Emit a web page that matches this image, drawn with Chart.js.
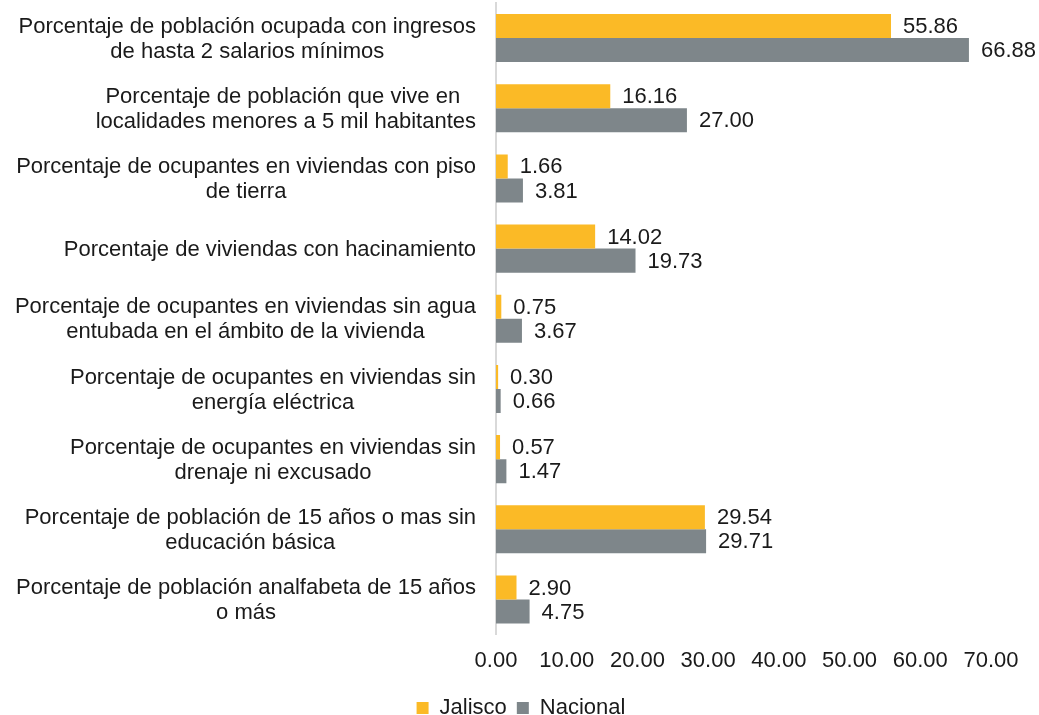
<!DOCTYPE html>
<html>
<head>
<meta charset="utf-8">
<script src="https://cdn.jsdelivr.net/npm/chart.js@4.4.0/dist/chart.umd.min.js"></script>
<style>
  html, body { margin: 0; padding: 0; background: #fff; overflow: hidden; }
  #wrap { width: 1039px; height: 729px; }
</style>
</head>
<body>
<div id="wrap"><canvas id="chart"></canvas></div>
<script>
const categories = [
    ["Porcentaje de población ocupada con ingresos", "de hasta 2 salarios mínimos"],
    ["Porcentaje de población que vive en ", "localidades menores a 5 mil habitantes"],
    ["Porcentaje de ocupantes en viviendas con piso", "de tierra"],
    ["Porcentaje de viviendas con hacinamiento"],
    ["Porcentaje de ocupantes en viviendas sin agua", "entubada en el ámbito de la vivienda"],
    ["Porcentaje de ocupantes en viviendas sin", "energía eléctrica"],
    ["Porcentaje de ocupantes en viviendas sin", "drenaje ni excusado"],
    ["Porcentaje de población de 15 años o mas sin", "educación básica"],
    ["Porcentaje de población analfabeta de 15 años", "o más"]
];
const jalisco = [55.86, 16.16, 1.66, 14.02, 0.75, 0.30, 0.57, 29.54, 2.90];
const nacional = [66.88, 27.00, 3.81, 19.73, 3.67, 0.66, 1.47, 29.71, 4.75];
const xTicks = [0, 10, 20, 30, 40, 50, 60, 70];

const FONT = "'Liberation Sans', Arial, sans-serif";
const TEXT = '#1A1A1A';

// labels at the end of every bar
const valueLabels = {
    id: 'valueLabels',
    afterDatasetsDraw(chart) {
        const ctx = chart.ctx;
        ctx.save();
        ctx.font = '22px ' + FONT;
        ctx.fillStyle = TEXT;
        ctx.textAlign = 'left';
        ctx.textBaseline = 'middle';
        chart.data.datasets.forEach((ds, i) => {
            chart.getDatasetMeta(i).data.forEach((bar, j) => {
                ctx.fillText(ds.data[j].toFixed(2), bar.x + 12, bar.y + 1);
            });
        });
        ctx.restore();
    }
};

// category labels: block right-aligned to the axis, lines centred in the block
const categoryLabels = {
    id: 'categoryLabels',
    afterDraw(chart) {
        const ctx = chart.ctx;
        const y = chart.scales.y;
        const lineH = 25;
        ctx.save();
        ctx.font = '22px ' + FONT;
        ctx.fillStyle = TEXT;
        ctx.textAlign = 'center';
        ctx.textBaseline = 'middle';
        categories.forEach((lines, i) => {
            const w = Math.max(...lines.map(l => ctx.measureText(l).width));
            const cx = y.right - 20 - w / 2;
            const cy = y.getPixelForValue(i);
            lines.forEach((l, k) => {
                ctx.fillText(l, cx, cy + (k - (lines.length - 1) / 2) * lineH + 1);
            });
        });
        ctx.restore();
    }
};

new Chart(document.getElementById('chart'), {
    type: 'bar',
    data: {
        labels: categories,
        datasets: [{
            label: 'Jalisco',
            data: jalisco,
            backgroundColor: '#FBBA26',
            borderWidth: 0,
            categoryPercentage: 0.685,
            barPercentage: 1
        }, {
            label: 'Nacional',
            data: nacional,
            backgroundColor: '#7E868A',
            borderWidth: 0,
            categoryPercentage: 0.685,
            barPercentage: 1
        }]
    },
    options: {
        indexAxis: 'y',
        responsive: true,
        maintainAspectRatio: false,
        animation: false,
        layout: { padding: { left: 51, right: 48, top: 3, bottom: 0 } },
        scales: {
            x: {
                min: 0,
                max: 70,
                afterBuildTicks: (scale) => { scale.ticks = xTicks.map(v => ({ value: v })); },
                grid: { display: false, drawTicks: false },
                border: { display: false },
                ticks: {
                    padding: 13,
                    color: TEXT,
                    font: { family: FONT, size: 22 },
                    maxRotation: 0,
                    callback: (v) => Number(v).toFixed(2)
                }
            },
            y: {
                grid: { display: false, drawTicks: false },
                border: { display: true, color: '#D9D9D9', width: 2 },
                ticks: { display: false },
                afterFit: (scale) => { scale.width = 445; }
            }
        },
        plugins: {
            legend: {
                position: 'bottom',
                labels: {
                    boxWidth: 12,
                    boxHeight: 12,
                    padding: 10,
                    color: TEXT,
                    font: { family: FONT, size: 22 }
                }
            },
            tooltip: { enabled: false }
        }
    },
    plugins: [valueLabels, categoryLabels]
});
</script>
</body>
</html>
